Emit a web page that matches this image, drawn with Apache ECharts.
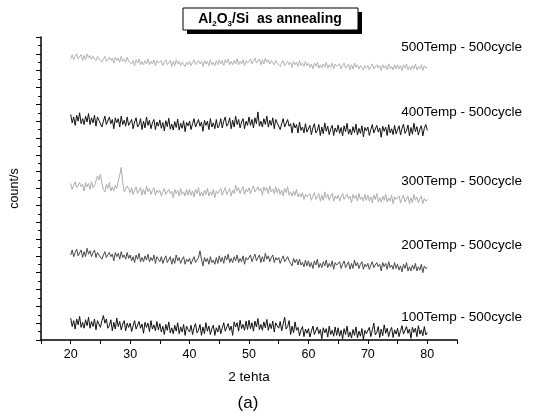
<!DOCTYPE html>
<html>
<head>
<meta charset="utf-8">
<script src="https://cdn.jsdelivr.net/npm/echarts@6/dist/echarts.min.js"></script>
<style>
html,body{margin:0;padding:0;background:#fff;}
#chart{width:547px;height:420px;}
</style>
</head>
<body>
<div id="chart"></div>
<script>
// 2-theta sampling: start and step (degrees)
const thetaStart = 20;
const thetaStep = 0.25;

const seriesNames = ["500Temp - 500cycle","400Temp - 500cycle","300Temp - 500cycle","200Temp - 500cycle","100Temp - 500cycle"];

const s500 = [
33.4,33.9,33.3,33.7,34.0,33.4,33.5,33.9,33.2,33.8,33.3,34.0,33.5,33.8,33.3,33.7,33.9,33.2,33.7,33.4,
33.5,33.0,33.4,33.7,33.1,33.0,33.6,33.2,33.5,32.9,33.6,33.2,33.5,33.0,33.7,33.1,33.4,33.0,33.6,33.1,
33.3,32.8,33.2,32.6,33.3,32.9,33.4,32.7,33.1,32.7,33.2,32.8,33.4,32.7,33.1,32.8,33.3,32.6,33.2,32.9,
32.7,33.2,32.6,33.0,33.3,32.7,32.8,33.2,32.5,33.1,32.6,33.3,32.8,33.1,32.6,33.0,33.2,32.5,33.0,32.7,
33.1,32.6,33.0,33.3,32.7,32.6,33.2,32.8,33.1,32.5,33.2,32.8,33.1,32.6,33.3,32.7,33.0,32.6,33.2,32.7,
33.3,32.8,33.2,32.6,33.3,32.9,33.4,32.7,33.1,32.7,33.2,32.8,33.4,32.7,33.1,32.8,33.3,32.6,33.2,32.9,
32.9,33.4,32.8,33.2,33.5,32.9,33.0,33.4,32.7,33.3,32.8,33.5,33.0,33.3,32.8,33.2,33.4,32.7,33.2,32.9,
33.0,32.5,32.9,33.2,32.6,32.5,33.1,32.7,33.0,32.4,33.1,32.7,33.0,32.5,33.2,32.6,32.9,32.5,33.1,32.6,
32.9,32.4,32.8,32.2,32.9,32.5,33.0,32.3,32.7,32.3,32.8,32.4,33.0,32.3,32.7,32.4,32.9,32.2,32.8,32.5,
32.3,32.8,32.2,32.6,32.9,32.3,32.4,32.8,32.1,32.7,32.2,32.9,32.4,32.7,32.2,32.6,32.8,32.1,32.6,32.3,
32.6,32.1,32.5,32.8,32.2,32.1,32.7,32.3,32.6,32.0,32.7,32.3,32.6,32.1,32.8,32.2,32.5,32.1,32.7,32.2,
32.7,32.2,32.6,32.0,32.7,32.3,32.8,32.1,32.5,32.1,32.6,32.2,32.8,32.1,32.5,32.2,32.7,32.0,32.6,32.3,
32.4];

const s400 = [
26.8,25.8,26.5,25.5,26.7,26.0,27.0,25.7,26.3,25.6,26.6,25.9,26.9,25.6,26.4,25.8,26.7,25.4,26.5,26.1,
26.3,25.3,26.0,26.6,25.6,25.4,26.5,25.7,26.2,25.1,26.4,25.8,26.3,25.3,26.6,25.6,26.1,25.4,26.5,25.5,
25.4,26.2,25.1,25.9,26.4,25.3,25.6,26.3,25.0,26.0,25.2,26.5,25.5,26.1,25.1,25.8,26.2,25.0,25.9,25.4,
26.15,25.15,25.85,24.85,26.05,25.35,26.35,25.05,25.65,24.95,25.95,25.25,26.25,24.95,25.75,25.15,26.05,24.75,25.85,25.45,
26.0,25.0,25.7,26.3,25.3,25.1,26.2,25.4,25.9,24.8,26.1,25.5,26.0,25.0,26.3,25.3,25.8,25.1,26.2,25.2,
25.5,26.3,25.2,26.0,26.5,25.4,25.7,26.4,25.1,26.1,25.3,26.6,25.6,26.2,25.2,25.9,26.3,25.1,26.0,25.5,
26.5,25.5,26.2,25.2,26.4,25.7,27.1,25.4,26.0,25.3,26.3,25.6,26.6,25.3,26.1,25.5,26.4,25.1,26.2,25.8,
26.0,25.0,25.7,26.3,25.3,25.1,26.2,25.4,25.7,24.6,25.8,25.2,25.6,24.6,25.9,24.9,25.3,24.6,25.7,24.7,
24.7,25.5,24.4,25.2,25.7,24.6,24.9,25.6,24.3,25.3,24.5,25.8,24.8,25.4,24.4,25.1,25.5,24.3,25.2,24.7,
25.55,24.55,25.25,24.25,25.45,24.75,25.75,24.45,25.05,24.35,25.35,24.65,25.65,24.35,25.15,24.55,25.45,24.15,25.25,24.85,
25.3,24.3,25.0,25.6,24.6,24.4,25.5,24.7,25.2,24.1,25.4,24.8,25.3,24.3,25.6,24.6,25.1,24.4,25.5,24.5,
24.65,25.45,24.35,25.15,25.65,24.55,24.85,25.55,24.25,25.25,24.45,25.75,24.75,25.35,24.35,25.05,25.45,24.25,25.15,25.6,
24.9];

const s300 = [
18.6,17.9,18.4,18.8,18.1,17.9,18.7,18.2,18.5,17.7,18.7,18.2,18.6,17.9,18.8,18.1,18.4,18.9,19.5,19.0,
19.7,18.6,17.9,17.6,18.5,18.0,18.7,17.7,18.2,17.7,18.4,18.0,18.9,19.6,20.5,18.8,17.6,17.5,18.3,18.0,
17.5,18.1,17.3,17.8,18.2,17.4,17.6,18.1,17.2,17.9,17.3,18.3,17.6,18.0,17.3,17.8,18.1,17.2,17.8,17.5,
17.8,17.1,17.6,18.0,17.3,17.1,17.9,17.4,17.7,16.9,17.9,17.4,17.8,17.1,18.0,17.3,17.6,17.1,17.9,17.2,
17.9,17.2,17.7,17.0,17.9,17.4,18.1,17.1,17.6,17.1,17.8,17.3,18.0,17.1,17.6,17.2,17.9,16.9,17.7,17.4,
17.4,18.0,17.2,17.7,18.1,17.3,17.5,18.0,17.1,17.8,17.4,18.4,17.7,18.1,17.4,17.9,18.2,17.3,17.9,17.6,
18.1,17.4,17.9,18.3,17.6,17.4,18.2,17.7,18.0,17.2,18.2,17.7,18.1,17.4,18.3,17.6,17.9,17.4,18.2,17.5,
18.0,17.3,17.8,17.1,18.0,17.5,18.2,17.2,17.6,17.1,17.7,17.2,17.9,17.0,17.4,17.0,17.5,16.7,17.3,17.0,
16.8,17.4,16.6,17.1,17.5,16.7,16.9,17.4,16.5,17.2,16.6,17.6,16.9,17.3,16.6,17.1,17.4,16.5,17.1,16.8,
17.2,16.5,17.0,17.4,16.7,16.5,17.3,16.8,17.1,16.3,17.3,16.8,17.2,16.5,17.4,16.7,17.0,16.5,17.3,16.6,
17.2,16.5,17.0,16.3,17.2,16.7,17.4,16.4,16.9,16.4,17.1,16.6,17.3,16.4,16.9,16.5,17.2,16.2,17.0,16.7,
16.5,17.1,16.3,16.8,17.2,16.4,16.6,17.1,16.2,16.9,16.3,17.3,16.6,17.0,16.3,16.8,17.1,16.2,16.8,16.5,
16.7];

const s200 = [
10.1,10.7,9.9,10.4,10.8,10.0,10.2,10.7,9.8,10.5,9.9,10.9,10.2,10.6,9.9,10.4,10.7,9.8,10.4,10.1,
10.3,9.6,10.1,10.5,9.8,9.6,10.4,9.9,10.2,9.4,10.4,9.9,10.3,9.6,10.5,9.8,10.1,9.6,10.4,9.7,
10.1,9.4,9.9,9.2,10.1,9.6,10.3,9.3,9.8,9.3,10.0,9.5,10.2,9.3,9.8,9.4,10.1,9.1,9.9,9.6,
9.3,9.9,9.1,9.6,10.0,9.2,9.4,9.9,9.0,9.7,9.1,10.1,9.4,9.8,9.1,9.6,9.9,9.0,9.6,9.3,
9.7,9.0,9.5,9.9,9.2,9.0,9.8,10.6,9.6,8.8,9.8,9.3,9.7,9.0,9.9,9.2,9.5,9.0,9.8,9.1,
10.0,9.3,9.8,9.1,10.0,9.5,10.2,9.2,9.7,9.2,9.9,9.4,10.1,9.2,9.7,9.3,10.0,9.0,9.8,9.5,
9.5,10.1,9.3,9.8,10.2,9.4,9.6,10.1,9.2,9.9,9.3,10.3,9.6,10.0,9.3,9.8,10.1,9.2,9.8,9.5,
9.8,9.1,9.6,10.0,9.3,9.1,9.9,9.4,9.6,8.8,9.7,9.2,9.6,8.9,9.6,8.9,9.2,8.7,9.5,8.8,
9.4,8.7,9.2,8.5,9.4,8.9,9.6,8.6,9.1,8.6,9.3,8.8,9.5,8.6,9.1,8.7,9.4,8.4,9.2,8.9,
8.7,9.3,8.5,9.0,9.4,8.6,8.8,9.3,8.4,9.1,8.5,9.5,8.8,9.2,8.5,9.0,9.3,8.4,9.0,8.7,
9.1,8.4,8.9,9.3,8.6,8.4,9.2,8.7,9.0,8.2,9.2,8.7,9.1,8.4,9.3,8.6,8.9,8.4,9.2,8.5,
9.0,8.3,8.8,8.1,9.0,8.5,9.2,8.2,8.7,8.2,8.9,8.4,9.1,8.2,8.7,8.3,9.0,8.0,8.8,8.5,
8.6];

const s100 = [
2.6,1.6,2.3,1.3,2.5,1.8,2.8,1.5,2.1,1.4,2.4,1.7,2.7,1.4,2.2,1.6,2.5,1.2,2.3,1.9,
1.5,2.3,2.9,2.0,2.5,1.4,1.7,2.4,1.1,2.1,1.3,2.6,1.6,2.2,1.2,1.9,2.3,1.1,2.0,1.5,
2.0,1.0,1.7,2.3,1.3,1.1,2.2,1.4,1.9,0.8,2.1,1.5,2.0,1.0,2.3,1.3,1.8,1.1,2.2,1.2,
1.95,0.95,1.65,0.65,1.85,1.15,2.15,0.85,1.45,0.75,1.75,1.05,2.05,0.75,1.55,0.95,1.85,0.55,1.65,1.25,
0.95,1.75,0.65,1.45,1.95,0.85,1.15,1.85,0.55,1.55,0.75,2.05,1.05,1.65,0.65,1.35,1.75,0.55,1.45,0.95,
1.75,0.75,1.45,2.05,1.05,0.85,1.95,1.15,1.65,0.55,2.15,1.55,2.05,1.05,2.35,1.35,1.85,1.15,2.25,1.25,
2.35,1.35,2.05,1.05,2.25,1.55,2.55,1.25,1.85,1.15,2.15,1.45,2.45,1.15,1.95,1.35,2.25,0.95,2.05,1.65,
1.4,2.2,1.1,1.9,2.7,1.3,1.6,2.3,0.65,1.65,0.85,2.15,1.15,1.5,0.5,1.2,1.6,0.4,1.3,0.8,
1.35,0.35,1.05,1.65,0.65,0.45,1.55,0.75,1.25,0.15,1.45,0.85,1.35,0.35,1.65,0.65,1.15,0.45,1.55,0.55,
1.45,0.45,1.15,0.15,1.35,0.65,1.65,0.35,0.95,0.25,1.25,0.55,1.55,0.25,1.05,0.45,1.35,0.05,1.15,0.75,
0.7,1.5,0.4,1.2,2.0,0.6,0.9,1.6,0.3,1.3,0.5,1.8,0.8,1.4,0.4,1.1,1.5,0.3,1.2,0.7,
1.4,0.4,1.1,1.7,0.7,0.5,1.6,0.8,1.3,0.2,1.5,0.9,1.4,0.4,1.7,0.7,1.2,0.5,1.6,0.6,
0.9];

const xTickLabels = [20,30,40,50,60,70,80];
const seriesValues = [s500,s400,s300,s200,s100];
const seriesColors = ["#b3b3b3","#111111","#adadad","#4a4a4a","#111111"];

const chart = echarts.init(document.getElementById('chart'), null, {renderer:'canvas'});
const FONT = '"Liberation Sans", Arial, sans-serif';

function toPairs(arr){ return arr.map((v,i)=>[thetaStart + i*thetaStep, v]); }

const series = seriesValues.map((arr,k)=>({
  name: seriesNames[k],
  type:'line',
  data: toPairs(arr),
  showSymbol:false,
  symbol:'none',
  lineStyle:{color: seriesColors[k], width:1},
  silent:true,
  animation:false
}));

const labelY = [47,112,181,245,317];
const graphics = [
  {type:'rect', shape:{x:187,y:12,width:175,height:22}, style:{fill:'#000'}},
  {type:'rect', shape:{x:183,y:8,width:175,height:22}, style:{fill:'#fff', stroke:'#000', lineWidth:1}},
  {type:'text', x:270, y:19, style:{
     text:'{n|Al}{s|2}{n|O}{s|3}{n|/Si  as annealing}',
     textAlign:'center', textVerticalAlign:'middle',
     rich:{
       n:{fontFamily:FONT, fontSize:14, fontWeight:'bold', fill:'#000'},
       s:{fontFamily:FONT, fontSize:8, fontWeight:'bold', fill:'#000', padding:[9,0,0,0]}
     }
  }},
  {type:'text', x:248, y:403, style:{text:'(a)', font:'17px '+FONT, fill:'#000', textAlign:'center', textVerticalAlign:'middle'}}
];
seriesNames.forEach((n,k)=>{
  graphics.push({type:'text', x:522, y:labelY[k], style:{text:n, font:'13.5px '+FONT, fill:'#000', textAlign:'right', textVerticalAlign:'middle'}});
});

chart.setOption({
  animation:false,
  backgroundColor:'#fff',
  grid:{left:37, right:90, top:37, bottom:80},
  xAxis:{
    type:'value', min:15, max:85, interval:5,
    name:'2 tehta', nameLocation:'middle', nameGap:30,
    nameTextStyle:{fontFamily:FONT, fontSize:13.5, color:'#000'},
    axisLine:{lineStyle:{color:'#000', width:1.5}},
    axisTick:{show:true, length:4, lineStyle:{color:'#000'}},
    axisLabel:{fontFamily:FONT, fontSize:12.5, color:'#000', margin:8,
      formatter:v=> xTickLabels.indexOf(v)>=0 ? String(v) : ''},
    splitLine:{show:false}
  },
  yAxis:{
    type:'value', min:0, max:36, interval:2,
    name:'count/s', nameLocation:'middle', nameGap:20, nameRotate:90,
    nameTextStyle:{fontFamily:FONT, fontSize:12.5, color:'#000'},
    axisLine:{show:true, lineStyle:{color:'#000', width:1.5}},
    axisTick:{show:true, length:5, lineStyle:{color:'#000'}},
    minorTick:{show:true, splitNumber:2, length:3, lineStyle:{color:'#000'}},
    axisLabel:{show:false},
    splitLine:{show:false}
  },
  graphic: graphics,
  series: series
});
</script>
</body>
</html>
